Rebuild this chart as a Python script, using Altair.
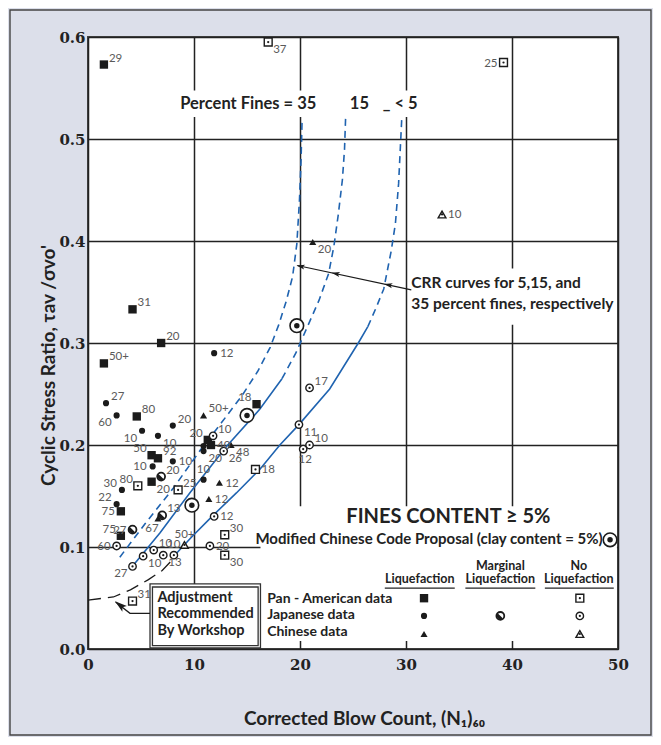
import altair as alt
import pandas as pd

# ---------------- data ----------------
# Pan-American data, liquefaction (filled squares)
pa_liq_x = [1.5, 4.2, 6.9, 1.5, 4.6, 15.9, 6.0, 6.6, 6.0, 3.1, 3.1, 11.3, 11.6]
pa_liq_y = [0.573, 0.333, 0.300, 0.280, 0.228, 0.240, 0.190, 0.187, 0.164, 0.135, 0.111, 0.205, 0.200]
pa_liq_lab = ["29", "31", "20", "50+", "80", "18", "50", "92", "20", "75", "75", "20", "40"]
pa_liq_pos = ["NE", "NE", "NE", "NE", "NE", "NW", "NW", "NE", "SE", "W", "NW", "NW", "E"]

# Pan-American data, no liquefaction (squares with dot)
pa_no_x = [17.0, 39.2, 4.7, 8.5, 15.8, 12.9, 12.9, 4.2]
pa_no_y = [0.595, 0.575, 0.160, 0.156, 0.176, 0.112, 0.092, 0.047]
pa_no_lab = ["37", "25", "80", "25", "18", "30", "30", "31"]
pa_no_pos = ["SE", "W", "NW", "NE", "E", "NE", "SE", "NE"]

# Japanese data, liquefaction (filled circles)
jp_liq_x = [1.7, 2.7, 5.1, 6.6, 8.0, 11.9, 6.1, 8.0, 3.2, 2.7, 10.9, 10.9, 10.9]
jp_liq_y = [0.241, 0.229, 0.214, 0.209, 0.219, 0.290, 0.179, 0.184, 0.156, 0.142, 0.166, 0.199, 0.194]
jp_liq_lab = ["27", "60", "10", "10", "20", "12", "10", "10", "30", "22", "10", "", "20"]
jp_liq_pos = ["NE", "SW", "SW", "SE", "NE", "E", "W", "E", "NW", "NW", "N", "E", "SE"]

# Japanese data, marginal liquefaction
jp_mar_x = [6.9, 4.2, 7.0]
jp_mar_y = [0.169, 0.117, 0.131]
jp_mar_lab = ["20", "27", "13"]
jp_mar_pos = ["NE", "W", "NE"]

# Japanese data, no liquefaction (circles with dot)
jp_no_x = [2.7, 4.2, 5.2, 6.2, 7.1, 8.1, 19.9, 20.9, 20.9, 20.3, 11.9, 11.5, 11.8, 12.8]
jp_no_y = [0.101, 0.081, 0.091, 0.097, 0.092, 0.092, 0.220, 0.256, 0.200, 0.196, 0.130, 0.101, 0.209, 0.194]
jp_no_lab = ["60", "27", "10", "10", "13", "10", "11", "17", "10", "12", "12", "20", "10", "26"]
jp_no_pos = ["W", "SW", "SE", "NE", "SE", "N", "SE", "NE", "NE", "S", "E", "E", "NE", "SE"]

# Chinese data, liquefaction (filled triangles)
ch_liq_x = [10.9, 13.5, 12.4, 11.4, 6.6, 21.2]
ch_liq_y = [0.229, 0.200, 0.163, 0.147, 0.128, 0.399]
ch_liq_lab = ["50+", "48", "12", "12", "67", "20"]
ch_liq_pos = ["NE", "SE", "E", "E", "SSW", "SE"]

# Chinese data, no liquefaction (open triangles)
ch_no_x = [33.4, 9.1]
ch_no_y = [0.426, 0.102]
ch_no_lab = ["10", "50+"]
ch_no_pos = ["E", "N"]

# Modified Chinese Code Proposal (clay content = 5%)
mcc_x = [15.0, 19.7, 9.8]
mcc_y = [0.229, 0.317, 0.141]

# CRR curves: 35 % fines (dashed), 15 % fines, <5 % fines
c35_x = [3.0, 5.4, 8.0, 10.6, 12.6, 14.5, 16.0, 17.2, 18.0, 18.7, 19.3, 19.7, 19.95, 20.1, 20.2]
c35_y = [0.090, 0.123, 0.157, 0.195, 0.222, 0.248, 0.272, 0.296, 0.318, 0.341, 0.365, 0.397, 0.44, 0.48, 0.52]
c15s_x = [4.1, 6.8, 9.6, 13.1, 16.2, 18.3]
c15s_y = [0.080, 0.114, 0.153, 0.199, 0.235, 0.265]
c15d_x = [18.3, 19.6, 20.7, 21.8, 22.7, 23.2, 23.6, 24.0, 24.2, 24.3]
c15d_y = [0.265, 0.290, 0.316, 0.342, 0.368, 0.395, 0.425, 0.460, 0.490, 0.520]
c5s_x = [8.0, 9.8, 11.8, 14.0, 16.2, 18.1, 19.9, 22.8, 25.5, 26.4]
c5s_y = [0.090, 0.110, 0.131, 0.153, 0.176, 0.200, 0.220, 0.255, 0.300, 0.316]
c5d_x = [26.4, 27.2, 27.9, 28.6, 29.0, 29.3, 29.6]
c5d_y = [0.316, 0.335, 0.353, 0.390, 0.417, 0.456, 0.520]

# Adjustment recommended by workshop (black dashed)
adj_x = [0.0, 2.4, 4.0, 5.7, 7.0, 8.0]
adj_y = [0.048, 0.051, 0.058, 0.068, 0.077, 0.088]

# axis ticks / titles
x_ticks = [0, 10, 20, 30, 40, 50]
y_ticks = [0, 0.1, 0.2, 0.3, 0.4, 0.5, 0.6]
x_title = "Corrected Blow Count, (N\u2081)\u2086\u2080"
y_title = "Cyclic Stress Ratio, \u03c4av /\u03c3vo'"

# legend sample symbols (columns: liquefaction, marginal, no liquefaction)
leg_col_x = [31.7, 38.9, 46.4]
leg_row_y = [0.0498, 0.0324, 0.0147]   # Pan-American, Japanese, Chinese
leg_mcc = [49.25, 0.107]

# annotation text (data coordinates)
big_txt = ["Percent Fines = 35", "15", "_  < 5", "CRR curves for 5,15, and", "35 percent fines, respectively"]
big_x = [8.7, 24.7, 27.8, 30.5, 30.5]
big_y = [0.529, 0.529, 0.529, 0.3535, 0.3335]
head_txt = ["Marginal", "No", "Liquefaction", "Liquefaction", "Liquefaction"]
head_x = [38.9, 46.3, 31.3, 38.9, 46.3]
head_y = [0.0775, 0.0775, 0.0645, 0.0645, 0.0645]
row_txt = ["Pan - American data", "Japanese data", "Chinese data"]
row_x = [16.9, 16.9, 16.9]
row_y = [0.0454, 0.0291, 0.0128]
adj_txt = ["Adjustment", "Recommended", "By Workshop"]
adj_tx = [6.55, 6.55, 6.55]
adj_ty = [0.0464, 0.0301, 0.0137]
fines_txt = ["FINES CONTENT \u2265 5%"]
fines_xy = [34.0, 0.1234]
mcc_txt = ["Modified Chinese Code Proposal (clay content = 5%)"]
mcc_xy = [48.55, 0.1027]

# underlines of legend headers
ul_x1 = [28.0, 35.6, 43.1]
ul_x2 = [34.6, 42.2, 49.6]
ul_y = [0.0596, 0.0596, 0.0596]

# white text panels and the workshop box
wb_x1 = [16.27, 8.4, 30.3]
wb_x2 = [49.9, 32.3, 49.9]
wb_y1 = [0.0078, 0.5215, 0.318]
wb_y2 = [0.140, 0.5475, 0.373]
box_out = [5.85, 16.27, 0.001, 0.0638]
box_in = [6.08, 16.05, 0.0034, 0.0608]

# arrows
crr_arrow_x = [30.5, 19.75]
crr_arrow_y = [0.352, 0.376]
crr_head_x = [20.05, 23.36, 28.32]
crr_head_y = [0.3752, 0.368, 0.357]
adj_arrow_x = [5.85, 3.96, 2.6]
adj_arrow_y = [0.035, 0.035, 0.0460]
adj_head = [3.0, 0.0430]

# ---------------- styling ----------------
INK = "#1b1b1b"
BLUE = "#1f63b0"
LABEL = "#5a5a5a"
FONT = "Lato"
ARROW = "M 0 -1 L 0.6 1 L 0 0.55 L -0.6 1 Z"

XS = alt.Scale(domain=[0, 50], nice=False, zero=False)
YS = alt.Scale(domain=[0, 0.6], nice=False, zero=False)
x_axis = alt.Axis(values=x_ticks, title=x_title, grid=True, ticks=False, domain=False,
                  labelPadding=8, titleX=276, titleY=75, titleBaseline="alphabetic",
                  titleAlign="center", labelFlush=False)
y_axis = alt.Axis(values=y_ticks, title=y_title, grid=True, ticks=False, domain=False,
                  labelPadding=3, titleX=-40, titleY=328, titleAngle=270,
                  titleBaseline="middle", titleAlign="center", labelFlush=False)


def X(f="x"):
    return alt.X(f"{f}:Q", scale=XS, axis=x_axis)


def Y(f="y"):
    return alt.Y(f"{f}:Q", scale=YS, axis=y_axis)


def pts(xs, ys, labs=None, poss=None):
    n = len(xs)
    return pd.DataFrame({"x": xs, "y": ys,
                         "label": labs if labs else [""] * n,
                         "pos": poss if poss else ["E"] * n})


def line_df(xs, ys):
    return pd.DataFrame({"x": xs, "y": ys, "i": list(range(len(xs)))})


def txt_df(ts, xs, ys):
    return pd.DataFrame({"t": ts, "x": xs, "y": ys})


layers = []

# white panels behind annotations
wb = pd.DataFrame({"x": wb_x1, "x2": wb_x2, "y": wb_y1, "y2": wb_y2})
layers.append(alt.Chart(wb).mark_rect(fill="white", strokeWidth=0).encode(
    x=X(), x2="x2:Q", y=Y(), y2="y2:Q"))
bo = pd.DataFrame({"x": [box_out[0]], "x2": [box_out[1]], "y": [box_out[2]], "y2": [box_out[3]]})
layers.append(alt.Chart(bo).mark_rect(fill="white", stroke="#333", strokeWidth=1.3).encode(
    x=X(), x2="x2:Q", y=Y(), y2="y2:Q"))
bi = pd.DataFrame({"x": [box_in[0]], "x2": [box_in[1]], "y": [box_in[2]], "y2": [box_in[3]]})
layers.append(alt.Chart(bi).mark_rect(fillOpacity=0, stroke="#333", strokeWidth=1.3).encode(
    x=X(), x2="x2:Q", y=Y(), y2="y2:Q"))

# curves
for xs, ys, dash in [(c35_x, c35_y, True), (c15s_x, c15s_y, False), (c15d_x, c15d_y, True),
                     (c5s_x, c5s_y, False), (c5d_x, c5d_y, True)]:
    kw = {"strokeDash": [7, 5]} if dash else {}
    layers.append(alt.Chart(line_df(xs, ys)).mark_line(color=BLUE, strokeWidth=1.6, **kw).encode(
        x=X(), y=Y(), order="i:Q"))
layers.append(alt.Chart(line_df(adj_x, adj_y)).mark_line(color=INK, strokeWidth=1.3, strokeDash=[13, 7]).encode(
    x=X(), y=Y(), order="i:Q"))

# arrows
layers.append(alt.Chart(line_df(crr_arrow_x, crr_arrow_y)).mark_line(color=INK, strokeWidth=1.2).encode(
    x=X(), y=Y(), order="i:Q"))
layers.append(alt.Chart(pts(crr_head_x, crr_head_y)).mark_point(
    shape=ARROW, filled=True, size=70, angle=282, color=INK, opacity=1).encode(x=X(), y=Y()))
layers.append(alt.Chart(line_df(adj_arrow_x, adj_arrow_y)).mark_line(color=INK, strokeWidth=1.3).encode(
    x=X(), y=Y(), order="i:Q"))
layers.append(alt.Chart(pts([adj_head[0]], [adj_head[1]])).mark_point(
    shape=ARROW, filled=True, size=150, angle=308, color=INK, opacity=1).encode(x=X(), y=Y()))

# symbol data (with legend samples)
pa_liq = pts(pa_liq_x + [leg_col_x[0]], pa_liq_y + [leg_row_y[0]], pa_liq_lab + [""], pa_liq_pos + ["E"])
pa_no = pts(pa_no_x + [leg_col_x[2]], pa_no_y + [leg_row_y[0]], pa_no_lab + [""], pa_no_pos + ["E"])
jp_liq = pts(jp_liq_x + [leg_col_x[0]], jp_liq_y + [leg_row_y[1]], jp_liq_lab + [""], jp_liq_pos + ["E"])
jp_mar = pts(jp_mar_x + [leg_col_x[1]], jp_mar_y + [leg_row_y[1]], jp_mar_lab + [""], jp_mar_pos + ["E"])
jp_no = pts(jp_no_x + [leg_col_x[2]], jp_no_y + [leg_row_y[1]], jp_no_lab + [""], jp_no_pos + ["E"])
ch_liq = pts(ch_liq_x + [leg_col_x[0]], ch_liq_y + [leg_row_y[2]], ch_liq_lab + [""], ch_liq_pos + ["E"])
ch_no = pts(ch_no_x + [leg_col_x[2]], ch_no_y + [leg_row_y[2]], ch_no_lab + [""], ch_no_pos + ["E"])
mcc = pts(mcc_x + [leg_mcc[0]], mcc_y + [leg_mcc[1]])


def sym(df, **kw):
    base = dict(color=INK, opacity=1)
    base.update(kw)
    return alt.Chart(df).mark_point(**base).encode(x=X(), y=Y())


dot = dict(shape="circle", filled=True, size=5)
layers += [
    sym(pa_liq, shape="square", filled=True, size=70),
    sym(pa_no, shape="square", filled=False, size=62, strokeWidth=1.4, fill="white", fillOpacity=1),
    sym(pa_no, **dot),
    sym(jp_liq, shape="circle", filled=True, size=38),
    sym(jp_no, shape="circle", filled=False, size=55, strokeWidth=1.4, fill="white", fillOpacity=1),
    sym(jp_no, **dot),
    sym(jp_mar, shape="circle", filled=False, size=62, strokeWidth=1.8, fill="white", fillOpacity=1),
    sym(jp_mar, shape="M -0.6 -0.6 A 0.85 0.85 0 0 0 0.6 0.6 Z", filled=True, size=78),
    sym(ch_liq, shape="triangle-up", filled=True, size=50),
    sym(ch_no, shape="triangle-up", filled=False, size=60, strokeWidth=1.4, fill="white", fillOpacity=1),
    sym(ch_no, **dot),
    sym(mcc, shape="circle", filled=False, size=185, strokeWidth=1.6, fill="white", fillOpacity=1),
    sym(mcc, shape="circle", filled=True, size=30),
]

# point labels
all_lab = pd.concat([pa_liq, pa_no, jp_liq, jp_mar, jp_no, ch_liq, ch_no], ignore_index=True)
all_lab = all_lab[all_lab["label"] != ""]
offsets = {
    "E": (6, 1, "left"), "NE": (5, -6, "left"), "SE": (5, 8, "left"),
    "W": (-6, 1, "right"), "NW": (-5, -6, "right"), "SW": (-5, 8, "right"),
    "N": (0, -10, "center"), "S": (2, 11, "center"), "SSW": (-6, 11, "center"),
}
for code, (dx, dy, al) in offsets.items():
    layers.append(alt.Chart(all_lab).transform_filter(alt.datum.pos == code).mark_text(
        dx=dx, dy=dy, align=al, baseline="middle", font=FONT, fontSize=11.5, color=LABEL).encode(
        x=X(), y=Y(), text="label:N"))

# annotation text


def texts(ts, xs, ys, **kw):
    base = dict(font=FONT, fontWeight="bold", color="#222", baseline="alphabetic", align="left")
    base.update(kw)
    return alt.Chart(txt_df(ts, xs, ys)).mark_text(**base).encode(x=X(), y=Y(), text="t:N")


layers += [
    texts(big_txt[:3], big_x[:3], big_y[:3], fontSize=16.5),
    texts(big_txt[3:], big_x[3:], big_y[3:], fontSize=15.5),
    texts(head_txt, head_x, head_y, fontSize=12.5, align="center"),
    texts(row_txt, row_x, row_y, fontSize=14),
    texts(adj_txt, adj_tx, adj_ty, fontSize=14.5),
    texts(fines_txt, [fines_xy[0]], [fines_xy[1]], fontSize=20, align="center"),
    texts(mcc_txt, [mcc_xy[0]], [mcc_xy[1]], fontSize=15, align="right"),
]

ul = pd.DataFrame({"x": ul_x1, "x2": ul_x2, "y": ul_y})
layers.append(alt.Chart(ul).mark_rule(color="#222", strokeWidth=1.3).encode(x=X(), x2="x2:Q", y=Y()))

# outer frame of the figure
frame = pd.DataFrame({"a": [0]})
layers.append(alt.Chart(frame).mark_rect(fillOpacity=0, stroke="#444", strokeWidth=1.4).encode(
    x=alt.value(-78), x2=alt.value(563), y=alt.value(-27), y2=alt.value(698)))

chart = alt.layer(*layers).properties(
    width=530, height=612,
    autosize=alt.AutoSizeParams(type="none"),
    padding={"left": 80, "top": 29, "right": 35, "bottom": 88},
    background="#dcdfea",
).configure_view(fill="white", stroke="#444", strokeWidth=2).configure_axis(
    gridColor="#222", gridWidth=1.5, gridOpacity=1,
    labelFont="DejaVu Serif", labelFontWeight="bold", labelFontSize=15, labelColor="#222",
    titleFont=FONT, titleFontWeight="bold", titleFontSize=19, titleColor="#222",
)

chart.save("out.html", embed_options={"renderer": "svg", "actions": False})
